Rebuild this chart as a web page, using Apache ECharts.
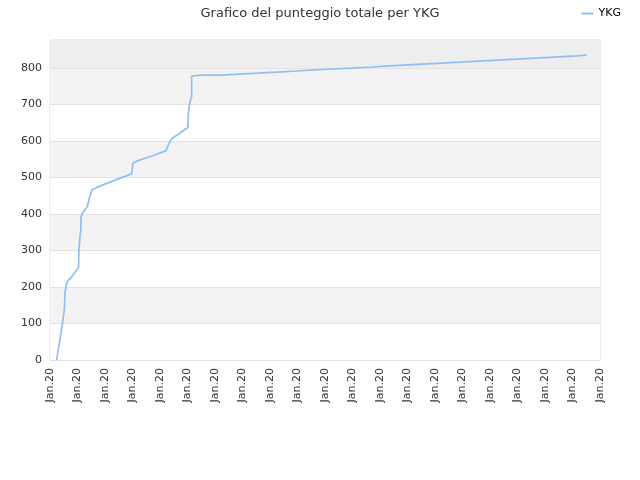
<!DOCTYPE html>
<html><head><meta charset="utf-8">
<script src="https://cdn.jsdelivr.net/npm/echarts@6/dist/echarts.min.js"></script>
<style>html,body{margin:0;padding:0;background:#fff}#c{width:640px;height:480px}</style>
</head><body><div id="c"></div>
<script>
const tickLabel = 'Jan.20';
const xTicks = 21;
const seriesName = 'YKG';
// rising part: [position along x axis, total score]
const riseX = [0.24,0.27,0.36,0.45,0.52,0.55,0.61,0.67,0.79,1.04,1.05,1.09,1.12,1.13,1.21,1.36,1.43,1.52,1.70,2.06,2.97,3.01,3.15,3.70,4.21,4.30,4.43,4.61,5.01,5.03,5.09,5.15,5.15];
const riseY = [0,14,55,100,137,187,211,219,228,254,301,338,356,394,406,420,444,466,473,484,510,539,545,559,573,589,607,616,637,676,708,721,778];
// slow part: step positions and values
const stepX = [5.52,6.22,6.88,7.57,8.27,8.95,9.62,10.29,10.99,11.67,12.34,13.03,13.72,14.40,15.09,15.76,16.45,17.13,17.82,18.48,19.17];
const stepY = [781,783.6,786,789,792,795,797.5,800,803,806,809,811.8,814.5,817,820,822.7,825.5,828,831,833.7,836.4];
const endX = 19.52;

const data = riseX.map((x,i)=>[x,riseY[i]]);
stepX.forEach((x,i)=>{
  if(i>0) data.push([x, stepY[i-1]]);
  data.push([x, stepY[i]]);
});
data.push([endX, stepY[stepY.length-1]]);

const chart = echarts.init(document.getElementById('c'));
chart.setOption({
  animation:false,
  title:{text:'Grafico del punteggio totale per YKG',left:'center',top:2,
    textStyle:{fontFamily:'DejaVu Sans',fontSize:13,fontWeight:'normal',color:'#333'}},
  legend:{right:14,top:3,itemWidth:12,itemHeight:2,icon:'rect',
    textStyle:{fontFamily:'DejaVu Sans',fontSize:11,color:'#000'},data:[seriesName]},
  grid:{left:50,right:40,top:40,bottom:120,show:true,borderColor:'#ddd',borderWidth:1,backgroundColor:'transparent'},
  xAxis:{type:'value',min:0,max:xTicks-1,interval:1,
    axisLine:{show:false},axisTick:{show:false},splitLine:{show:false},
    axisLabel:{formatter:()=>tickLabel,rotate:90,fontFamily:'DejaVu Sans',fontSize:11,color:'#333',margin:8}},
  yAxis:{type:'value',min:0,max:877,interval:100,
    axisLine:{show:false},axisTick:{show:false},
    splitLine:{lineStyle:{color:'#e2e2e2'}},
    splitArea:{show:true,areaStyle:{color:['#ffffff','#f3f3f3']}},
    axisLabel:{fontFamily:'DejaVu Sans',fontSize:11,color:'#333',margin:8,
      formatter:v=>v%100===0?String(v):''}},
  series:[{name:seriesName,type:'line',data:data,showSymbol:false,
    lineStyle:{color:'#8fc0f2',width:1.7},itemStyle:{color:'#8fc0f2'},
    markArea:{silent:true,itemStyle:{color:'#eeeeee'},data:[[{yAxis:800},{yAxis:877}]]}}]
});
</script></body></html>
